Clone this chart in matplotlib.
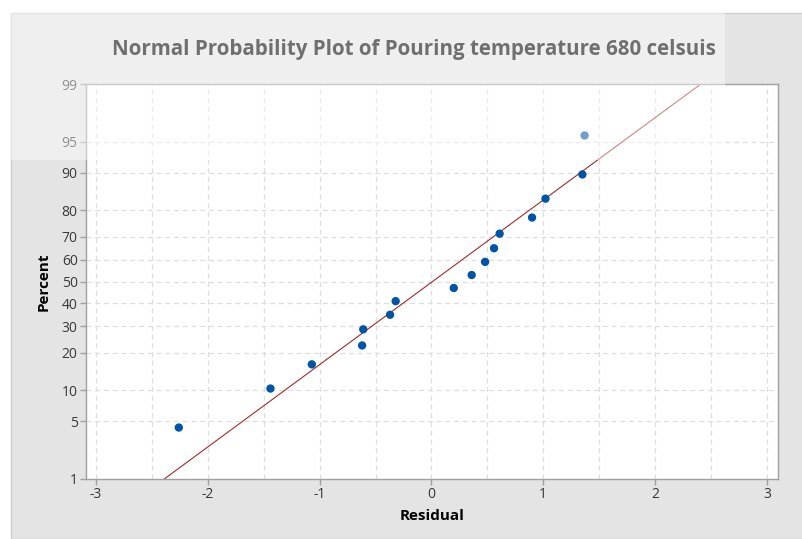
import numpy as np
import matplotlib
matplotlib.use("Agg")
import matplotlib.pyplot as plt
from matplotlib.patches import Rectangle
from statistics import NormalDist

plt.rcParams['axes.unicode_minus'] = False
plt.rcParams['font.family'] = ['Open Sans', 'DejaVu Sans']

# ---- data ----
residuals = [-2.26, -1.44, -1.07, -0.62, -0.61, -0.37, -0.32, 0.20, 0.36,
             0.48, 0.56, 0.61, 0.90, 1.02, 1.35, 1.37]
percents = [4.27, 10.37, 16.46, 22.56, 28.66, 34.76, 40.85, 46.95, 53.05,
            59.15, 65.24, 71.34, 77.44, 83.54, 89.63, 95.73]
fit_x = [-2.39, 2.41]
fit_p = [1, 99]
y_ticks = [1, 5, 10, 20, 30, 40, 50, 60, 70, 80, 90, 95, 99]
x_ticks = [-3, -2, -1, 0, 1, 2, 3]
x_grid = [-3, -2.5, -2, -1.5, -1, -0.5, 0, 0.5, 1, 1.5, 2, 2.5, 3]
title = "Normal Probability Plot of Pouring temperature 680 celsuis"
xlabel = "Residual"
ylabel = "Percent"

_nd = NormalDist()
_ppf = np.vectorize(lambda v: _nd.inv_cdf(v / 100.0), otypes=[float])
_cdf = np.vectorize(lambda v: _nd.cdf(v) * 100.0, otypes=[float])
def fwd(p):
    p = np.clip(np.asarray(p, dtype=float), 1e-6, 100 - 1e-6)
    return _ppf(p)
def inv(z):
    return _cdf(np.asarray(z, dtype=float))

W, H = 803, 539
fig = plt.figure(figsize=(W / 100, H / 100), dpi=100, facecolor='white')

def fx(px):
    return px / W
def fy(py):
    return 1 - py / H

# grey panel background
fig.add_artist(Rectangle((fx(11), 0), 1 - fx(11), fy(13), transform=fig.transFigure,
                         facecolor='#e4e4e4', edgecolor='#cfcfcf', lw=1, zorder=-5))

ax = fig.add_axes([fx(86), fy(479), fx(778) - fx(86), fy(84) - fy(479)])
ax.set_facecolor('white')
ax.set_yscale('function', functions=(fwd, inv))
ax.set_ylim(1, 99)
ax.set_xlim(-3.09, 3.1)

ax.set_yticks(y_ticks)
ax.set_yticklabels([str(t) for t in y_ticks])
ax.set_xticks(x_ticks)
ax.set_xticklabels([str(t) for t in x_ticks])
ax.minorticks_off()

for g in x_grid:
    ax.axvline(g, color='#dedede', lw=0.9, ls=(0, (4, 3)), zorder=0)
for t in y_ticks[1:-1]:
    ax.axhline(t, color='#dedede', lw=0.9, ls=(0, (4, 3)), zorder=0)

ax.plot(fit_x, fit_p, color='#a52a2a', lw=0.8, zorder=2)
ax.scatter(residuals, percents, s=36, color='#0054a6', edgecolors='none', zorder=3)

for sp in ax.spines.values():
    sp.set_color('#a0a0a0')
    sp.set_linewidth(1)
ax.tick_params(axis='both', colors='#a0a0a0', length=4, width=1, labelsize=10,
               labelcolor='#383838', pad=2)

ax.set_xlabel(xlabel, fontsize=11, fontweight='bold', color='black')
ax.set_ylabel(ylabel, fontsize=11, fontweight='bold', color='black')
ax.xaxis.set_label_coords(0.5, (479 - 509) / 395)
ax.yaxis.set_label_coords((51 - 86) / 692, 0.5)

fig.text(fx(414), fy(50), title, ha='center', va='center', fontsize=14.8,
         fontweight='bold', color='black')

# light translucent overlay region (as in the reference)
fig.add_artist(Rectangle((fx(11), fy(160)), fx(725) - fx(11), fy(13) - fy(160),
                         transform=fig.transFigure, facecolor='white', alpha=0.44,
                         edgecolor='none', zorder=20))

fig.savefig('out.png', dpi=100, facecolor='white')
